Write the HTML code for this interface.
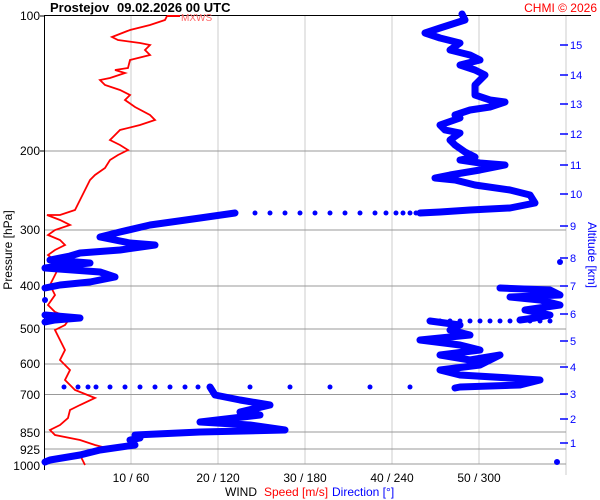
<!DOCTYPE html>
<html><head><meta charset="utf-8"><style>
html,body{margin:0;padding:0;background:#fff;}
svg{display:block;font-family:"Liberation Sans",sans-serif;}
</style></head><body>
<svg width="600" height="500" viewBox="0 0 600 500">
<rect width="600" height="500" fill="#fff"/>
<g stroke="#ccc" stroke-width="1">
<line x1="131" y1="16" x2="131" y2="464"/><line x1="218" y1="16" x2="218" y2="464"/>
<line x1="305" y1="16" x2="305" y2="464"/><line x1="392" y1="16" x2="392" y2="464"/>
<line x1="479" y1="16" x2="479" y2="464"/><line x1="566" y1="16" x2="566" y2="475"/>
</g>
<g stroke="#999" stroke-width="1">
<line x1="45" y1="151" x2="566" y2="151"/><line x1="45" y1="230" x2="566" y2="230"/>
<line x1="45" y1="286" x2="566" y2="286"/><line x1="45" y1="329" x2="566" y2="329"/>
<line x1="45" y1="364" x2="566" y2="364"/><line x1="45" y1="394.5" x2="566" y2="394.5"/>
<line x1="45" y1="432" x2="566" y2="432"/><line x1="45" y1="449" x2="566" y2="449"/>
<line x1="45" y1="464" x2="566" y2="464"/>
</g>
<line x1="45" y1="15.5" x2="591" y2="15.5" stroke="#000"/>
<line x1="44.5" y1="15" x2="44.5" y2="470" stroke="#000"/>
<g font-size="12" fill="#000" text-anchor="end">
<text x="40" y="20">100</text><text x="40" y="155">200</text><text x="40" y="234">300</text>
<text x="40" y="290">400</text><text x="40" y="333">500</text><text x="40" y="368">600</text>
<text x="40" y="399">700</text><text x="40" y="437">850</text><text x="40" y="454">925</text>
<text x="40" y="470">1000</text>
</g>
<g stroke="#000"><line x1="40" y1="16" x2="45" y2="16"/><line x1="40" y1="151" x2="45" y2="151"/></g>
<text x="12" y="250" font-size="12" transform="rotate(-90 12 250)" text-anchor="middle">Pressure [hPa]</text>
<g font-size="12" text-anchor="middle">
<text x="131" y="482">10 / 60</text><text x="218" y="482">20 / 120</text><text x="305" y="482">30 / 180</text>
<text x="392" y="482">40 / 240</text><text x="479" y="482">50 / 300</text>
</g>
<text x="225" y="496" font-size="12">WIND</text>
<text x="264" y="496" font-size="12" fill="#f00">Speed [m/s]</text>
<text x="332" y="496" font-size="12" fill="#00f">Direction [°]</text>
<text x="50" y="12" font-size="13" font-weight="bold">Prostejov</text>
<text x="117" y="12" font-size="13" font-weight="bold">09.02.2026 00 UTC</text>
<text x="597" y="12" font-size="12" fill="#f00" text-anchor="end">CHMI © 2026</text>
<text x="181" y="21" font-size="10" fill="#f66">MXWS</text>
<g stroke="#00f" stroke-width="1.5">
<line x1="560" y1="45" x2="568" y2="45"/><line x1="560" y1="75" x2="568" y2="75"/><line x1="560" y1="104" x2="568" y2="104"/>
<line x1="560" y1="134" x2="568" y2="134"/><line x1="560" y1="165" x2="568" y2="165"/><line x1="560" y1="194" x2="568" y2="194"/>
<line x1="560" y1="226" x2="568" y2="226"/><line x1="560" y1="258" x2="568" y2="258"/><line x1="560" y1="286" x2="568" y2="286"/>
<line x1="560" y1="314" x2="568" y2="314"/><line x1="560" y1="341" x2="568" y2="341"/><line x1="560" y1="367" x2="568" y2="367"/>
<line x1="560" y1="394" x2="568" y2="394"/><line x1="560" y1="419" x2="568" y2="419"/><line x1="560" y1="443" x2="568" y2="443"/>
</g>
<g font-size="11" fill="#00f">
<text x="570" y="49">15</text><text x="570" y="79">14</text><text x="570" y="108">13</text><text x="570" y="138">12</text>
<text x="570" y="169">11</text><text x="570" y="198">10</text><text x="570" y="230">9</text><text x="570" y="262">8</text>
<text x="570" y="290">7</text><text x="570" y="318">6</text><text x="570" y="345">5</text><text x="570" y="371">4</text>
<text x="570" y="398">3</text><text x="570" y="423">2</text><text x="570" y="447">1</text>
</g>
<text x="588" y="255" font-size="12" fill="#00f" transform="rotate(90 588 255)" text-anchor="middle">Altitude [km]</text>
<line x1="167" y1="16" x2="180" y2="16" stroke="#f00" stroke-width="2"/>
<polyline fill="none" stroke="#f00" stroke-width="1.8" points="167,16 165,20 150,25 130,30 112,37 118,40 140,43 150,45 145,50 150,55 130,60 128,68 115,70 125,73 110,78 100,80 105,85 120,90 130,95 125,100 135,107 150,115 155,120 140,125 120,130 115,135 110,140 120,145 128,150 118,155 110,160 105,168 95,175 90,180 85,190 80,200 75,210 60,215 47,215 60,220 70,225 55,230 48,235 60,240 65,245 55,250 48,255 60,265 55,275 50,285 55,295 48,305 55,312 70,318 65,325 55,330 60,340 65,350 60,360 70,370 65,380 75,390 95,398 80,405 70,410 68,418 60,425 50,430 55,435 80,440 95,445 110,449 92,452 80,455 85,465"/>
<g fill="none" stroke="#00f" stroke-width="7" stroke-linejoin="round" stroke-linecap="round">
<polyline points="462,14 465,20 440,28 425,33 440,38 460,43 450,50 470,55 480,60 460,65 475,70 485,75 480,80 475,85 475,95 490,100 505,102 490,107 470,110 455,115 460,118 440,125 445,130 460,133 450,140 455,145 465,152 475,157 460,160 480,163 505,165 480,170 450,175 435,178 455,180 475,185 510,190 530,195 535,203 510,208 470,210 440,212 420,213"/>
<polyline points="235,213 200,218 150,225 120,232 100,237 130,243 155,245 120,250 80,253 70,256 50,260 90,263 60,266 45,268 100,272 115,277 90,282 60,285 45,288"/>
<polyline points="45,315 80,318 55,320 45,322"/>
<polyline points="500,288 550,290 560,295 510,297 540,300 560,305 525,310 550,315 535,318 520,320"/>
<polyline points="430,321 460,325 450,330 470,335 420,340 460,345 480,350 440,355 470,360 500,355 480,365 440,370 460,375 510,378 540,380 520,385 460,387 455,388"/>
<polyline points="210,387 215,395 240,400 270,405 240,412 260,415 200,422 250,425 285,430 200,432 135,435 140,438 130,440 135,445 100,450 80,455 50,460 45,462"/>
</g>
<g fill="#00f">
<circle cx="560" cy="262" r="3"/><circle cx="557" cy="462" r="3"/><circle cx="45" cy="300" r="3"/>
<circle cx="255" cy="213" r="2.5"/><circle cx="270" cy="213" r="2.5"/><circle cx="285" cy="213" r="2.5"/><circle cx="300" cy="213" r="2.5"/>
<circle cx="315" cy="213" r="2.5"/><circle cx="330" cy="213" r="2.5"/><circle cx="345" cy="213" r="2.5"/><circle cx="360" cy="213" r="2.5"/>
<circle cx="375" cy="213" r="2.5"/><circle cx="386" cy="213" r="2.5"/><circle cx="396" cy="213" r="2.5"/><circle cx="403" cy="213" r="2.5"/>
<circle cx="410" cy="213" r="2.5"/><circle cx="416" cy="213" r="2.5"/>
<circle cx="64" cy="387" r="2.5"/><circle cx="78" cy="387" r="2.5"/><circle cx="88" cy="387" r="2.5"/><circle cx="96" cy="387" r="2.5"/>
<circle cx="110" cy="387" r="2.5"/><circle cx="125" cy="387" r="2.5"/><circle cx="140" cy="387" r="2.5"/><circle cx="155" cy="387" r="2.5"/>
<circle cx="170" cy="387" r="2.5"/><circle cx="185" cy="387" r="2.5"/><circle cx="198" cy="387" r="2.5"/><circle cx="250" cy="387" r="2.5"/>
<circle cx="290" cy="387" r="2.5"/><circle cx="330" cy="387" r="2.5"/><circle cx="370" cy="387" r="2.5"/><circle cx="410" cy="387" r="2.5"/>
<circle cx="440" cy="321" r="2.5"/><circle cx="450" cy="321" r="2.5"/><circle cx="460" cy="321" r="2.5"/><circle cx="470" cy="321" r="2.5"/>
<circle cx="480" cy="321" r="2.5"/><circle cx="490" cy="321" r="2.5"/><circle cx="500" cy="321" r="2.5"/><circle cx="510" cy="321" r="2.5"/>
<circle cx="520" cy="321" r="2.5"/><circle cx="530" cy="321" r="2.5"/><circle cx="540" cy="321" r="2.5"/><circle cx="550" cy="321" r="2.5"/>
</g>
</svg>
</body></html>
